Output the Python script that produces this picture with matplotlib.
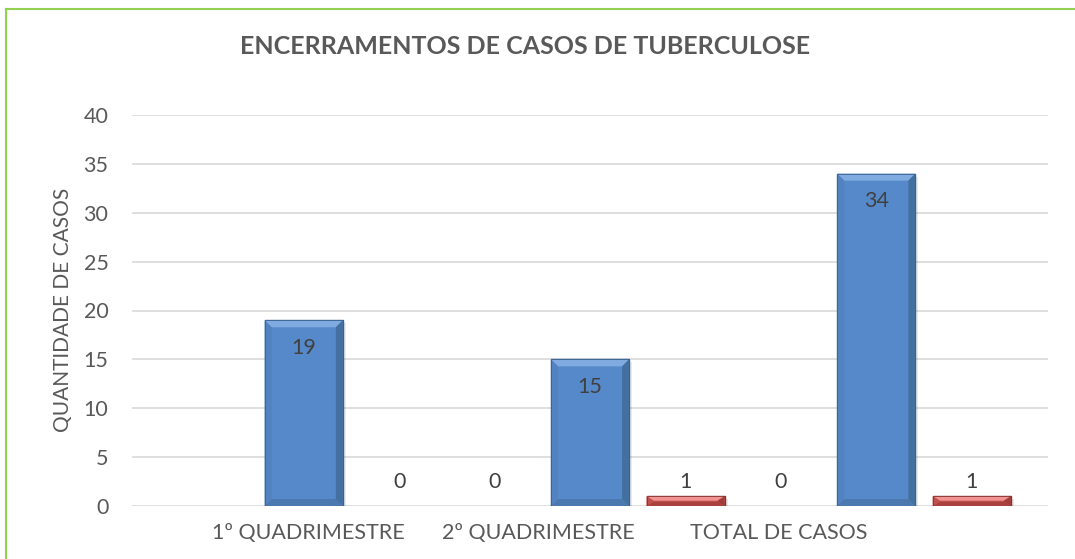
import matplotlib
matplotlib.use("Agg")
import matplotlib.pyplot as plt
from matplotlib.patches import Polygon, Rectangle
import numpy as np

categories = ["1º QUADRIMESTRE", "2º QUADRIMESTRE", "TOTAL DE CASOS"]
serie_a = [None, 0, 0]      # invisible series (no fill)
serie_b = [19, 15, 34]      # blue
serie_c = [0, 1, 1]         # red
title = "ENCERRAMENTOS DE CASOS DE TUBERCULOSE"
ylabel = "QUANTIDADE DE CASOS"
yticks = [0, 5, 10, 15, 20, 25, 30, 35, 40]

plt.rcParams['font.family'] = ['Lato', 'DejaVu Sans']
W, H, DPI = 1075, 559, 100
fig = plt.figure(figsize=(W / DPI, H / DPI), dpi=DPI)
ax = fig.add_axes([132 / W, 1 - 506 / H, (1048 - 132) / W, (506 - 115) / H])
ax.set_xlim(-0.6, 2.6)
ax.set_ylim(0, 40)

gray = "#595959"
spacing = 0.334
bw = 0.273
x = np.arange(len(categories))

px_x = (2.6 + 0.6) / (1048 - 132)
px_y = 40 / (506 - 115)

def bevel_bar(xc, h, face, light, dark, side_l, side_r, edge):
    if h is None or h <= 0:
        return
    x0, x1 = xc - bw / 2, xc + bw / 2
    b = 7
    bx, by = b * px_x, min(b * px_y, h / 2.2)
    ax.add_patch(Rectangle((x1, 0), 3 * px_x, h - 3 * px_y, color="#00000015", lw=0, zorder=2))
    ax.add_patch(Rectangle((x0, 0), bw, h, facecolor=face, edgecolor=edge, lw=1, zorder=3))
    ax.add_patch(Polygon([(x0, h), (x1, h), (x1 - bx, h - by), (x0 + bx, h - by)],
                         closed=True, facecolor=light, lw=0, zorder=4))
    ax.add_patch(Polygon([(x0, 0), (x1, 0), (x1 - bx, by), (x0 + bx, by)],
                         closed=True, facecolor=dark, lw=0, zorder=4))
    ax.add_patch(Polygon([(x0, 0), (x0, h), (x0 + bx, h - by), (x0 + bx, by)],
                         closed=True, facecolor=side_l, lw=0, zorder=4))
    ax.add_patch(Polygon([(x1, 0), (x1, h), (x1 - bx, h - by), (x1 - bx, by)],
                         closed=True, facecolor=side_r, lw=0, zorder=4))
    ax.add_patch(Rectangle((x0, 0), bw, h, facecolor="none", edgecolor=edge, lw=0.6, zorder=5))

for i in x:
    bevel_bar(i, serie_b[i], "#5689C9", "#80ABE0", "#4A78AF", "#5282C0", "#44709F", "#3A6190")
    bevel_bar(i + spacing, serie_c[i], "#CC5753", "#F19491", "#A9423F", "#C14F4B", "#A23D3A", "#843230")

for i in x:
    for off, vals in ((-spacing, serie_a), (spacing, serie_c)):
        v = vals[i]
        if v is None:
            continue
        ax.annotate(str(v), (i + off, max(v, 1)), xytext=(0, 10.5), textcoords="offset points",
                    ha="center", va="center", fontsize=15.5, color="#404040", zorder=6)
    ax.annotate(str(serie_b[i]), (i, serie_b[i]), xytext=(0, -20), textcoords="offset points",
                ha="center", va="center", fontsize=15.5, color="#404040", zorder=6)

ax.set_yticks(yticks)
ax.grid(axis="y", color="#D9D9D9", lw=1.2)
ax.set_axisbelow(True)
for s in ax.spines.values():
    s.set_visible(False)
ax.tick_params(axis="y", length=0, pad=17, labelsize=15.5, labelcolor=gray)
ax.tick_params(axis="x", length=0, pad=12, labelsize=15.5, labelcolor=gray)
label_pos = [0.016, 0.82, 1.66]
ax.set_xticks(label_pos)
ax.set_xticklabels(categories)

fig.text(63 / W, 1 - 310 / H, ylabel, rotation=90, ha="center", va="center",
         fontsize=15, color=gray)
fig.text(525 / W, 1 - 47 / H, title, ha="center", va="center", fontsize=18,
         fontweight="bold", color=gray)

fig.add_artist(plt.Line2D([6 / W, 6 / W], [0, 1 - 9 / H], transform=fig.transFigure,
                          color="#92D050", lw=1.5))
fig.add_artist(plt.Line2D([6 / W, 1], [1 - 9 / H, 1 - 9 / H], transform=fig.transFigure,
                          color="#92D050", lw=1.5))

fig.savefig("out.png", dpi=DPI)
